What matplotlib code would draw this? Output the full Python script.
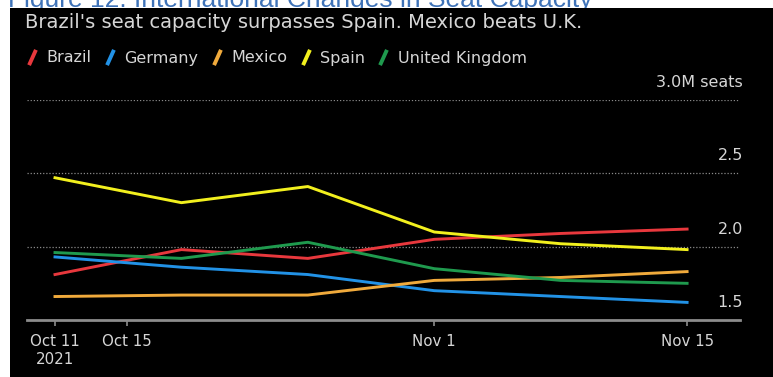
import datetime as dt
import matplotlib
matplotlib.use("Agg")
import matplotlib.pyplot as plt
import matplotlib.dates as mdates
from matplotlib.lines import Line2D
from matplotlib.path import Path
from matplotlib.patches import Rectangle

# weekly seat capacity, millions of seats
DATES = ["2021-10-11", "2021-10-18", "2021-10-25", "2021-11-01", "2021-11-08", "2021-11-15"]
BRAZIL = [1.81, 1.98, 1.92, 2.05, 2.09, 2.12]
GERMANY = [1.93, 1.86, 1.81, 1.70, 1.66, 1.62]
MEXICO = [1.66, 1.67, 1.67, 1.77, 1.79, 1.83]
SPAIN = [2.47, 2.30, 2.41, 2.10, 2.02, 1.98]
UK = [1.96, 1.92, 2.03, 1.85, 1.77, 1.75]

SERIES = ["Brazil", "Germany", "Mexico", "Spain", "United Kingdom"]
COLORS = ["#e8383d", "#2292e6", "#f0aa3c", "#f2f01e", "#1f9a4e"]

TICK_DATES = ["2021-10-11", "2021-10-15", "2021-11-01", "2021-11-15"]
TICK_LABELS = ["Oct 11\n2021", "Oct 15", "Nov 1", "Nov 15"]
Y_TICKS = [1.5, 2.0, 2.5, 3.0]
Y_LABELS = ["1.5", "2.0", "2.5", "3.0M seats"]

TEXT = "#d6d6d6"
W, H = 773, 377


def to_date(s):
    return dt.datetime.strptime(s, "%Y-%m-%d")


fig = plt.figure(figsize=(W / 100, H / 100), dpi=100, facecolor="white")

# report caption, cut off by the image top and hidden under the black panel
fig.text(8 / W, 370 / H, "Figure 12: International Changes in Seat Capacity",
         color="#3f73b8", fontsize=19, family="Liberation Sans",
         va="baseline", ha="left", zorder=0.5)
fig.patches.append(Rectangle((10 / W, 0), 1, (H - 8) / H, transform=fig.transFigure,
                             facecolor="black", edgecolor="none", zorder=1))

ax = fig.add_axes([27 / W, 57 / H, 713 / W, 220 / H])
ax.set_zorder(2)
ax.patch.set_alpha(0)

x = [to_date(d) for d in DATES]
for name, vals, c in zip(SERIES, [BRAZIL, GERMANY, MEXICO, SPAIN, UK], COLORS):
    ax.plot(x, vals, color=c, lw=2.1, label=name, zorder=3)

ax.set_ylim(1.5, 3.0)
x0 = mdates.date2num(to_date(DATES[0]))
x1 = mdates.date2num(to_date(DATES[-1]))
ax.set_xlim(x0 - 1.55, x1 + 2.93)

for v in Y_TICKS[1:]:
    ax.axhline(v, color="#8a8a8a", lw=0.9, ls=(0, (1, 1.5)), zorder=1)
for v, lab in zip(Y_TICKS, Y_LABELS):
    ax.annotate(lab, xy=(1.004, v), xycoords=("axes fraction", "data"),
                xytext=(0, 10), textcoords="offset pixels",
                ha="right", va="bottom", color=TEXT, fontsize=11.5)

for s in ["top", "right", "left"]:
    ax.spines[s].set_visible(False)
ax.spines["bottom"].set_color("#8c8c8c")
ax.spines["bottom"].set_linewidth(2)
ax.set_yticks([])
ax.set_xticks([to_date(d) for d in TICK_DATES])
ax.set_xticklabels(TICK_LABELS, color=TEXT, fontsize=10.8, linespacing=1.25)
ax.tick_params(axis="x", length=4, width=1.2, color="#8c8c8c", pad=6)

fig.text(25 / W, (H - 22) / H, "Brazil's seat capacity surpasses Spain. Mexico beats U.K.",
         color=TEXT, fontsize=14, va="center", ha="left", zorder=3)

slash = Path([(-0.45, -1), (0.45, 1)], [Path.MOVETO, Path.LINETO])
handles = [Line2D([], [], lw=0, marker=slash, markersize=11, markeredgewidth=2.8,
                  markeredgecolor=c) for c in COLORS]
leg = fig.legend(handles, SERIES, loc="center left", bbox_to_anchor=(26 / W, (H - 58) / H),
                 ncol=5, frameon=False, fontsize=11.5, handlelength=0.8, handletextpad=0.5,
                 columnspacing=0.75, borderpad=0, borderaxespad=0, numpoints=1)
leg.set_zorder(3)
for t in leg.get_texts():
    t.set_color(TEXT)

fig.savefig("out.png", dpi=100, facecolor="white")
